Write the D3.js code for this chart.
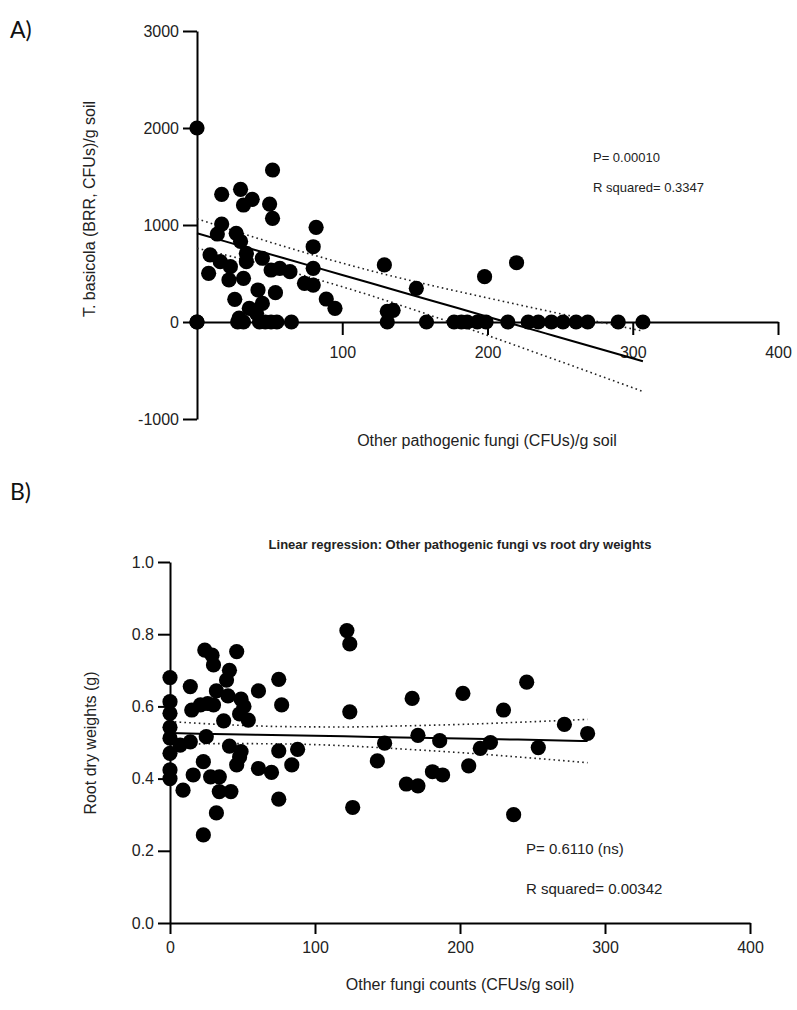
<!DOCTYPE html>
<html>
<head>
<meta charset="utf-8">
<script src="https://cdn.jsdelivr.net/npm/d3@7"></script>
<style>
  body { margin: 0; background: #fff; }
  svg { display: block; }
</style>
</head>
<body>
<script>
const w = 797;
const h = 1010;

// panel A: other pathogenic fungi vs T. basicola
const fungiA = [0, 52, 17, 30, 38, 32, 50, 52, 17, 14, 27, 30, 82, 80, 80, 74, 80, 89, 95, 9, 16, 8, 23, 22, 32, 34, 34, 45, 51, 57, 64, 26, 42, 54, 36, 45, 41, 29, 129, 151, 131, 135, 198, 220,
  0, 0, 28, 32, 43, 47, 51, 55, 65, 131, 158, 177, 182, 186, 193, 199, 214, 228, 235, 244, 252, 261, 269, 290, 307];
const basicola = [2000, 1567, 1316, 1368, 1265, 1206, 1216, 1069, 1010, 907, 914, 830, 976, 776, 553, 399, 381, 237, 141, 691, 622, 502, 570, 433, 450, 708, 622, 657, 536, 553, 519, 234, 330, 302, 141, 192, 90, 40, 588, 347, 110, 120, 467, 611,
  0, 0, 0, 0, 0, 0, 0, 0, 0, 0, 0, 0, 0, 0, 0, 0, 0, 0, 0, 0, 0, 0, 0, 0, 0];
// fitted line and 95% band
const bandXA = [0, 40, 80, 120, 160, 200, 240, 280, 307];
const fitA = [915, 743, 571, 399, 227, 55, -117, -289, -405];
const upperA = [1065, 871, 691, 527, 382, 248, 118, -9, -94];
const lowerA = [760, 615, 451, 271, 72, -138, -352, -569, -716];
const yTicksA = [3000, 2000, 1000, 0, -1000];
const xTicksA = [100, 200, 300, 400];
const statsA = ['P= 0.00010', 'R squared= 0.3347'];

// panel B: other fungi counts vs root dry weight
const fungiB = [24, 29, 30, 46, 41, 39, 0, 14, 32, 40, 61, 75, 77, 0, 0, 15, 21, 26, 30, 49, 51, 48, 54, 37, 0, 25, 0, 7, 14, 0, 41, 49, 48, 46, 23, 0, 0, 16, 28, 34, 9, 34, 42, 32, 23, 61, 70, 75, 84, 88, 75,
  122, 124, 124, 126, 167, 171, 148, 143, 163, 171, 181, 188, 186, 202, 206, 230, 246, 214, 221, 254, 237, 272, 288];
const rootWeight = [0.756, 0.742, 0.715, 0.752, 0.70, 0.673, 0.68, 0.655, 0.643, 0.629, 0.643, 0.675, 0.604, 0.613, 0.581, 0.59, 0.604, 0.608, 0.604, 0.62, 0.60, 0.579, 0.562, 0.56, 0.542, 0.516, 0.512, 0.493, 0.502, 0.47, 0.49, 0.475, 0.46, 0.438, 0.447, 0.424, 0.40, 0.41, 0.405, 0.405, 0.368, 0.364, 0.364, 0.305, 0.244, 0.428, 0.417, 0.477, 0.438, 0.481, 0.343,
  0.81, 0.773, 0.585, 0.32, 0.622, 0.52, 0.498, 0.449, 0.385, 0.38, 0.419, 0.41, 0.505, 0.636, 0.435, 0.59, 0.667, 0.484, 0.5, 0.486, 0.30, 0.55, 0.525];
const bandXB = [0, 40, 80, 120, 160, 200, 240, 288];
const fitB = [0.526, 0.523, 0.520, 0.517, 0.514, 0.511, 0.508, 0.504];
const upperB = [0.558, 0.549, 0.544, 0.543, 0.546, 0.550, 0.556, 0.564];
const lowerB = [0.494, 0.497, 0.496, 0.491, 0.482, 0.472, 0.460, 0.444];
const yTicksB = [0.0, 0.2, 0.4, 0.6, 0.8, 1.0];
const xTicksB = [0, 100, 200, 300, 400];
const statsB = ['P= 0.6110 (ns)', 'R squared= 0.00342'];

const svg = d3.select('body').append('svg')
  .attr('width', w)
  .attr('height', h)
  .style('font-family', '"Liberation Sans", Arial, sans-serif');

function drawPanel(xs, ys, bx, fy, up, lo, xScale, yScale) {
  const line = (vals) => d3.line()
    .x((d, i) => xScale(bx[i]))
    .y((d, i) => yScale(vals[i]))
    .curve(d3.curveMonotoneX)(bx);
  [up, lo].forEach(vals => {
    svg.append('path').attr('d', line(vals))
      .attr('fill', 'none').attr('stroke', '#222').attr('stroke-width', 1.6)
      .attr('stroke-dasharray', '1.6,3.2');
  });
  svg.append('path').attr('d', line(fy))
    .attr('fill', 'none').attr('stroke', '#000').attr('stroke-width', 2);
  svg.append('g').selectAll('circle')
    .data(xs.map((x, i) => [x, ys[i]]))
    .enter().append('circle')
    .attr('cx', d => xScale(d[0]))
    .attr('cy', d => yScale(d[1]))
    .attr('r', 7.6)
    .attr('fill', '#000');
}

function styleAxis(g) {
  g.selectAll('path, line').attr('stroke', '#000').attr('stroke-width', 2);
  g.selectAll('text').attr('fill', '#222').style('font-size', '16px')
    .style('font-family', '"Liberation Sans", Arial, sans-serif');
}

// ---------- A ----------
const xA = d3.scaleLinear().domain([0, 400]).range([197, 778]);
const yA = d3.scaleLinear().domain([-1000, 3000]).range([419, 31]);

svg.append('text').attr('x', 10).attr('y', 38).text('A)')
  .style('font-family', 'Lato, "Open Sans", sans-serif').style('font-size', '23px').attr('fill', '#111');

svg.append('g')
  .attr('transform', `translate(197,0)`)
  .call(d3.axisLeft(yA).tickValues(yTicksA).tickFormat(d => String(d)).tickSize(14).tickPadding(4).tickSizeOuter(0))
  .call(styleAxis);

svg.append('g')
  .attr('transform', `translate(0,${yA(0)})`)
  .call(d3.axisBottom(xA).tickValues(xTicksA).tickSize(13).tickPadding(12).tickSizeOuter(0))
  .call(styleAxis);

svg.append('text')
  .attr('transform', 'rotate(-90)')
  .attr('x', -209).attr('y', 95)
  .style('text-anchor', 'middle').style('font-size', '16px').attr('fill', '#222')
  .text('T. basicola (BRR, CFUs)/g soil');

svg.append('text')
  .attr('x', 487).attr('y', 446)
  .style('text-anchor', 'middle').style('font-size', '16px').attr('fill', '#222')
  .text('Other pathogenic fungi (CFUs)/g soil');

svg.selectAll('.statA').data(statsA).enter().append('text')
  .attr('x', 593).attr('y', (d, i) => 162 + i * 30)
  .style('font-size', '13px').attr('fill', '#222')
  .text(d => d);

drawPanel(fungiA, basicola, bandXA, fitA, upperA, lowerA, xA, yA);

// ---------- B ----------
const xB = d3.scaleLinear().domain([0, 400]).range([170, 750]);
const yB = d3.scaleLinear().domain([0, 1]).range([923, 562]);

svg.append('text').attr('x', 10).attr('y', 500).text('B)')
  .style('font-family', 'Lato, "Open Sans", sans-serif').style('font-size', '23px').attr('fill', '#111');

svg.append('text')
  .attr('x', 460).attr('y', 549)
  .style('text-anchor', 'middle').style('font-size', '13px').style('font-weight', 'bold').attr('fill', '#222')
  .text('Linear regression: Other pathogenic fungi vs root dry weights');

svg.append('g')
  .attr('transform', `translate(170,0)`)
  .call(d3.axisLeft(yB).tickValues(yTicksB).tickFormat(d3.format('.1f')).tickSize(12).tickPadding(4).tickSizeOuter(0))
  .call(styleAxis);

svg.append('g')
  .attr('transform', `translate(0,${yB(0)})`)
  .call(d3.axisBottom(xB).tickValues(xTicksB).tickSize(11).tickPadding(8).tickSizeOuter(0))
  .call(styleAxis);

svg.append('text')
  .attr('transform', 'rotate(-90)')
  .attr('x', -743).attr('y', 96)
  .style('text-anchor', 'middle').style('font-size', '16px').attr('fill', '#222')
  .text('Root dry weights (g)');

svg.append('text')
  .attr('x', 460).attr('y', 990)
  .style('text-anchor', 'middle').style('font-size', '16px').attr('fill', '#222')
  .text('Other fungi counts (CFUs/g soil)');

svg.selectAll('.statB').data(statsB).enter().append('text')
  .attr('x', 526).attr('y', (d, i) => 854 + i * 40)
  .style('font-size', '15px').attr('fill', '#222')
  .text(d => d);

drawPanel(fungiB, rootWeight, bandXB, fitB, upperB, lowerB, xB, yB);
</script>
</body>
</html>
